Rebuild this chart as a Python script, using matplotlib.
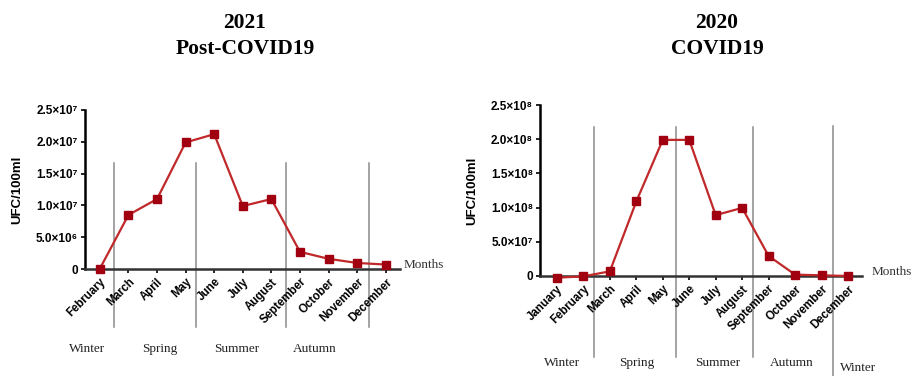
import matplotlib.pyplot as plt

# 2021 post-COVID19 (UFC/100ml)
months_2021 = ['February', 'March', 'April', 'May', 'June', 'July', 'August',
               'September', 'October', 'November', 'December']
ufc_2021 = [0.05e6, 8.5e6, 11.0e6, 19.9e6, 21.2e6, 9.9e6, 11.0e6, 2.7e6, 1.6e6, 0.95e6, 0.7e6]
yticks_2021 = [0, 5e6, 1e7, 1.5e7, 2e7, 2.5e7]
ylabels_2021 = ['0', '5.0×10⁶', '1.0×10⁷', '1.5×10⁷', '2.0×10⁷', '2.5×10⁷']

# 2020 COVID19 (UFC/100ml)
months_2020 = ['January', 'February', 'March', 'April', 'May', 'June', 'July', 'August',
               'September', 'October', 'November', 'December']
ufc_2020 = [-2.5e6, -0.5e6, 6.8e6, 1.09e8, 1.99e8, 1.99e8, 0.89e8, 0.996e8, 0.293e8, 2e6, 1e6, 0]
yticks_2020 = [0, 5e7, 1e8, 1.5e8, 2e8, 2.5e8]
ylabels_2020 = ['0', '5.0×10⁷', '1.0×10⁸', '1.5×10⁸', '2.0×10⁸', '2.5×10⁸']

seasons_2021 = ['Winter', 'Spring', 'Summer', 'Autumn']
seasons_2020 = ['Winter', 'Spring', 'Summer', 'Autumn', 'Winter']

sans = ['Liberation Sans', 'DejaVu Sans']
serif = ['Liberation Serif', 'DejaVu Serif']
line_c = '#c0282a'
mark_c = '#a00010'

fig = plt.figure(figsize=(9.13, 3.76), dpi=100)


def panel(rect, months, vals, yt, yl, xlim, ymax, dividers, div_lo, div_hi):
    ax = fig.add_axes(rect)
    x = list(range(len(months)))
    ax.plot(x, vals, color=line_c, lw=1.6, marker='s', ms=5.5,
            mfc=mark_c, mec=mark_c, clip_on=False, zorder=3)
    ax.set_xlim(*xlim)
    ax.set_ylim(0, ymax)
    for s in ['top', 'right']:
        ax.spines[s].set_visible(False)
    for s in ['left', 'bottom']:
        ax.spines[s].set_linewidth(1.8)
    ax.spines['bottom'].set_color('#333333')
    ax.set_yticks(yt)
    ax.set_yticklabels(yl, fontfamily=sans, fontweight='bold', fontsize=8.5)
    ax.set_xticks(x)
    ax.set_xticklabels(months, rotation=45, ha='right', rotation_mode='anchor',
                       fontfamily=sans, fontweight='bold', fontsize=8.3)
    ax.tick_params(axis='both', length=3, width=1.2, pad=2)
    ax.set_ylabel('UFC/100ml', fontfamily=sans, fontweight='bold', fontsize=9.5, labelpad=9)
    for xd, lo, hi in zip(dividers, div_lo, div_hi):
        ax.axvline(xd, ymin=lo, ymax=hi, color='#8a8a8a', lw=1.1, clip_on=False, zorder=1)
    return ax


ax1 = panel([85 / 913, 107 / 376, 315 / 913, 159 / 376], months_2021, ufc_2021,
            yticks_2021, ylabels_2021, (-0.52, 10.5), 2.5e7,
            [0.49, 3.36, 6.5, 9.4], [-0.365] * 4, [0.667] * 4)
ax2 = panel([540 / 913, 100 / 376, 322 / 913, 171 / 376], months_2020, ufc_2020,
            yticks_2020, ylabels_2020, (-0.64, 11.53), 2.5e8,
            [1.4, 4.5, 7.41, 10.43], [-0.474, -0.474, -0.474, -0.6], [0.871, 0.871, 0.871, 0.88])

# season labels and axis annotation (figure pixel positions)
for name, px in zip(seasons_2021, [87, 160, 237, 315]):
    fig.text(px / 913, 1 - 349 / 376, name, family=serif, fontsize=9.5, color='#222222',
             ha='center', va='center')
for name, px, py in zip(seasons_2020, [562, 637, 718, 792, 858], [363, 363, 363, 363, 368]):
    fig.text(px / 913, 1 - py / 376, name, family=serif, fontsize=9.5, color='#222222',
             ha='center', va='center')
fig.text(404 / 913, 1 - 265 / 376, 'Months', family=serif, fontsize=9.5, color='#333333',
         ha='left', va='center')
fig.text(872 / 913, 1 - 272 / 376, 'Months', family=serif, fontsize=9.5, color='#333333',
         ha='left', va='center')

fig.text(245 / 913, 1 - 36 / 376, '2021\nPost-COVID19', family=serif, fontweight='bold',
         fontsize=15.5, ha='center', va='center', linespacing=1.35)
fig.text(717 / 913, 1 - 36 / 376, '2020\nCOVID19', family=serif, fontweight='bold',
         fontsize=15.5, ha='center', va='center', linespacing=1.35)

fig.savefig('out.png', dpi=100)
